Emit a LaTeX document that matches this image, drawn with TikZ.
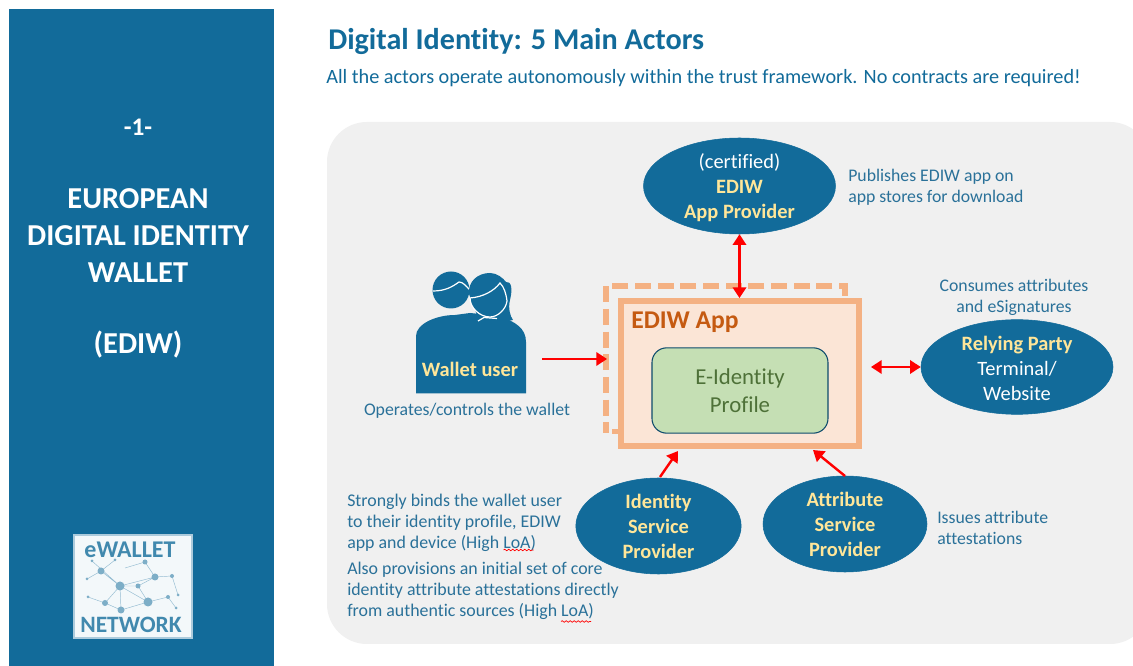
\documentclass[tikz,border=0pt]{standalone}
\usepackage{fontspec}
\setmainfont[Ligatures=NoCommon]{Carlito}
\usetikzlibrary{arrows.meta,shapes.geometric,decorations.pathmorphing}
\definecolor{bluemain}{HTML}{126B9A}
\definecolor{bluetxt}{HTML}{2A7199}
\definecolor{panel}{HTML}{F0F0F0}
\definecolor{peach}{HTML}{F4B183}
\definecolor{peachfill}{HTML}{FBE5D6}
\definecolor{greenfill}{HTML}{C5DFB4}
\definecolor{greentxt}{HTML}{4E7138}
\definecolor{rust}{HTML}{C55A11}
\definecolor{yel}{HTML}{FFE699}
\newcommand{\fs}[2]{\fontsize{#1pt}{#2pt}\selectfont}
\tikzset{
  actor/.style={ellipse,fill=bluemain,draw=bluemain,inner sep=0pt,align=center,text=white,font=\fs{15.3}{18.7}},
  actorb/.style={actor,text=yel,font=\bfseries\fs{15.3}{18.7}},
  note/.style={text=bluetxt,align=left,anchor=west,inner sep=0pt,font=\fs{13.3}{15.7}},
  link/.style={red,line width=1.8pt,-{Triangle[length=8pt,width=10pt]}},
  linkb/.style={red,line width=1.8pt,{Triangle[length=8pt,width=10pt]}-{Triangle[length=8pt,width=10pt]}},
  side/.style={text=white,align=center,font=\bfseries\fs{22.8}{27.5}},
  squig/.style={red,line width=0.5pt,decorate,decoration={snake,amplitude=0.6pt,segment length=3pt}},
  net/.style={draw=bluemain!45,line width=0.35pt},
  logotxt/.style={text=bluemain!80!white,inner sep=0pt}
}
\begin{document}
\begin{tikzpicture}[x=0.75pt,y=-0.75pt]
\useasboundingbox (0,0) rectangle (1133,666);
\fill[white] (0,0) rectangle (1133,666);
% sidebar
\fill[bluemain] (9,9) rectangle (273.5,666);
\node[side] (num) at (138,127) {\fs{19}{22}-1-};
\node[side] (sidet) at (138,235.5) {EUROPEAN\\DIGITAL IDENTITY\\WALLET};
\node[side] (sideb) at (138,345) {(EDIW)};
% logo
\fill[white!95!bluemain,draw=bluemain!35!white,line width=1.5pt] (73.5,535.5) rectangle (192,638.5);
\draw[net] (120,586)--(101,571) (120,586)--(155,577) (120,586)--(148,602) (120,586)--(105,603) (120,586)--(121,610) (120,586)--(92,561) (120,586)--(138,586)
 (155,577)--(172,576) (155,577)--(145,562) (148,602)--(138,586) (155,577)--(138,586) (101,571)--(87,579) (148,602)--(121,610) (172,576)--(178,595) (148,602)--(168,597) (105,603)--(88,597) (121,610)--(105,603) (101,571)--(115,560) (145,562)--(125,568) (168,597)--(176,608);
\foreach \x/\y/\s in {120/586/9,101/571/7,155/577/7,148/602/9,105/603/6,121/610/7,138/586/5,172/576/4,145/562/5,92/561/3,87/579/3,178/595/3,168/597/4,88/597/3,176/608/3,115/560/3}
  \fill[bluemain!55] (\x,\y) circle[radius=\s*0.5];
\node[logotxt,font=\bfseries\fs{18}{20}] (logoa) at (130,550) {eWALLET};
\node[logotxt,font=\bfseries\fs{17.6}{20}] (logob) at (131,625) {NETWORK};
% titles
\node[anchor=west,inner sep=0pt,text=bluemain,font=\bfseries\fs{22.6}{24}] (title) at (328,41) {Digital Identity: 5 Main Actors};
\node[anchor=west,inner sep=0pt,text=bluemain,font=\fs{15.2}{18}] (sub) at (326,78) {All the actors operate autonomously within the trust framework. No contracts are required!};
% panel
\fill[panel,rounded corners=30pt] (1150,122) -- (327,122) -- (327,644) -- (1150,644) -- cycle;
% dashed app
\draw[peach,line width=4.5pt,dash pattern=on 12pt off 5pt] (845,296) -- (845,286) -- (606,286) -- (606,433);
\fill[peach] (612,429) rectangle (620,434);
% app
\node[draw=peach,fill=peachfill,line width=4.6pt,minimum width=178.4pt,minimum height=108.6pt,inner sep=0pt] (app) at (740,373.5) {};
\node[anchor=west,inner sep=0pt,text=rust,font=\bfseries\fs{19.2}{22}] (applab) at (631,322) {EDIW App};
\node[draw=bluemain!70!black,fill=greenfill,line width=0.8pt,rounded corners=11pt,minimum width=132pt,minimum height=64pt,inner sep=0pt,align=center,text=greentxt,font=\fs{17.1}{20.5}] (prof) at (740,390.5) {E-Identity\\Profile};
% ellipses
\node[actor,minimum width=144pt,minimum height=72pt] (prov) at (739.5,186) {};
\node[text=white,align=center,inner sep=0pt,font=\fs{15.3}{18.7}] (provt) at (739.5,187.5) {(certified)\\\textcolor{yel}{\textbf{EDIW}}\\\textcolor{yel}{\textbf{App Provider}}};
\node[actor,minimum width=144pt,minimum height=71pt] (rp) at (1017,367) {};
\node[text=white,align=center,inner sep=0pt,font=\fs{15.3}{18.7}] (rpt) at (1017,368.5) {\textcolor{yel}{\textbf{Relying Party}}\\Terminal/\\Website};
\node[actorb,minimum width=124pt,minimum height=72pt] (isp) at (658.5,526) {Identity\\Service\\Provider};
\node[actorb,minimum width=123pt,minimum height=72pt] (asp) at (845,524) {Attribute\\Service\\Provider};
% person
\fill[bluemain] (416,393.5) -- (416,336) .. controls (416,324) and (436,315) .. (455,315) -- (470,313) -- (500,316) .. controls (515,322) and (526,328) .. (526,342) -- (526,393.5) -- cycle;
\fill[bluemain] (451,290) circle[radius=18.5];
\draw[white,line width=0.9pt] (433,291) .. controls (445,291) and (452,287) .. (459,282) .. controls (463,282) and (466,286) .. (470,290);
\fill[bluemain] (469,294) .. controls (468,281) and (478,273) .. (490,273) .. controls (497,273) and (503,278) .. (506,282) .. controls (511,281) and (513,288) .. (510,300) .. controls (508,308) and (510,316) .. (513,320) .. controls (507,322) and (500,321) .. (494,316) -- (478,318) -- cycle;
\fill[bluemain,draw=white,line width=0.9pt] (470,298) .. controls (483,297) and (494,291) .. (500,283) .. controls (504,287) and (506,293) .. (507,301) .. controls (506,309) and (498,317) .. (490,317) .. controls (480,317) and (470,308) .. (470,298) -- cycle;
\draw[white,line width=0.9pt] (478,321) -- (484,317.5) -- (497,318.5);
\node[inner sep=0pt,text=yel,font=\bfseries\fs{15.3}{17}] (wu) at (470,369.5) {Wallet user};
\coordinate (wuout) at (542,359);
\coordinate (dashin) at (607,359);
% notes
\node[note,anchor=center,align=center] (nwu) at (467,410.5) {Operates/controls the wallet};
\node[note] (nprov) at (848,187) {Publishes EDIW app on\\app stores for download};
\node[note,anchor=center,align=center] (nrp) at (1014,297) {Consumes attributes\\and eSignatures};
\node[note] (nasp) at (937,527.5) {Issues attribute\\attestations};
\node[note,font=\fs{13.4}{15.7}] (nisp) at (347,522.5) {Strongly binds the wallet user\\to their identity profile, EDIW\\app and device (High LoA)};
\node[note,font=\fs{13.4}{15.7}] (nisp2) at (347,591) {Also provisions an initial set of core\\identity attribute attestations directly\\from authentic sources (High LoA)};
\draw[squig] (503.5,550) -- (533.5,550);
\draw[squig] (561,621.5) -- (591,621.5);
% arrows
\draw[linkb] (prov.south) -- (prov.south |- app.north);
\draw[link] (wuout) -- (dashin);
\draw[linkb] (rp.west) -- (871,367);
\draw[link] (660,477) -- (678,451);
\draw[link] (845,476) -- (813,450);
\end{tikzpicture}
\end{document}
